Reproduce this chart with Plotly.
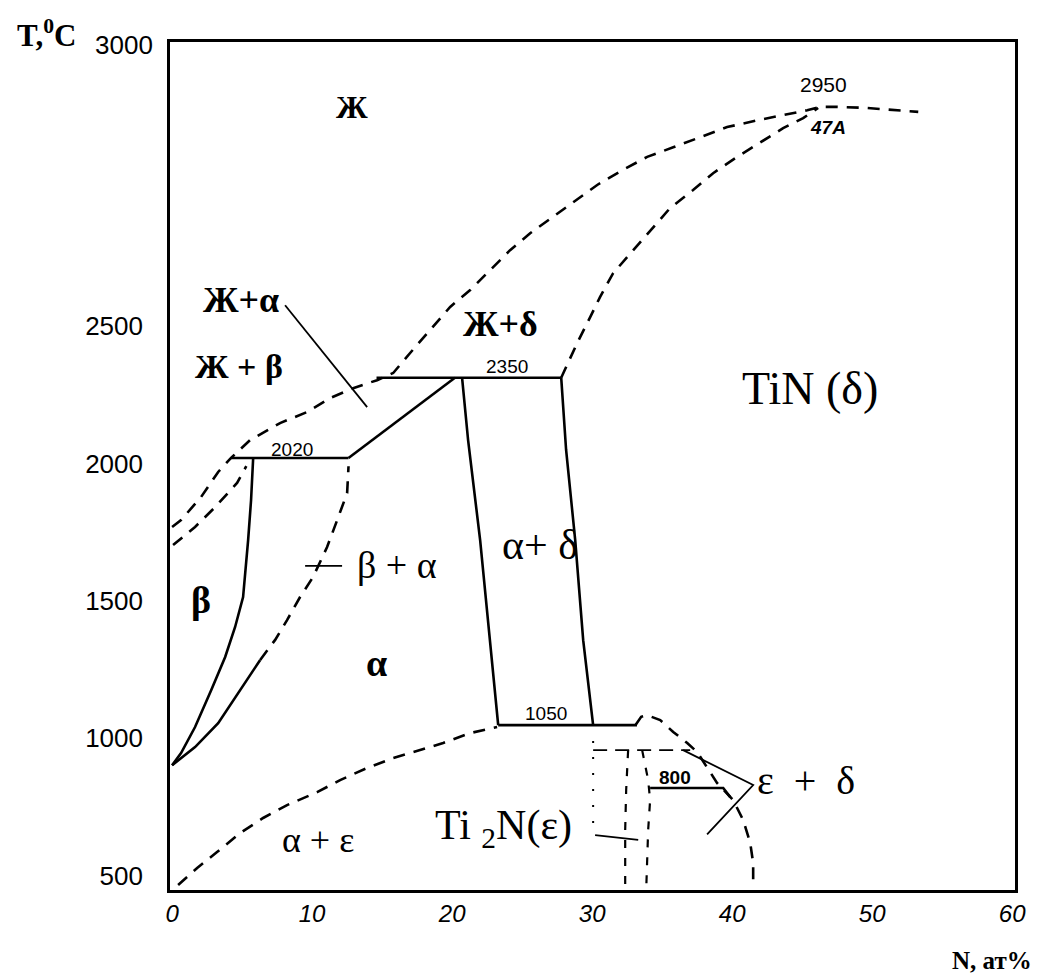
import plotly.graph_objects as go

# ---------------- data (x: N, at.%; T: deg C) ----------------
# upper part of the temperature axis (2500..3000) is drawn stretched in the original
T_BREAK = 2500
K_UPPER = 2.045

liq_x = [0.0, 0.64, 2.07, 3.29, 4.21, 5.57, 7.71, 9.64, 11.29, 12.93, 14.64, 15.79, 17.0, 18.43, 19.86,
         21.29, 22.71, 24.14, 25.57, 27.21, 29.14, 30.36, 32.21, 33.93, 35.79, 37.71, 39.64, 41.79,
         43.64, 45.36, 46.29, 47.5, 49.64, 51.5, 53.29]
liq_T = [1769, 1794, 1878, 1969, 2020, 2085, 2147, 2187, 2238, 2274, 2303, 2329, 2402, 2485, 2534,
         2564, 2600, 2635, 2665, 2694, 2729, 2751, 2778, 2801, 2818, 2836, 2854, 2866,
         2875, 2884, 2890, 2890, 2888, 2884, 2881]

delta_sol_x = [27.79, 28.93, 29.86, 30.57, 31.5, 32.93, 34.14, 35.57, 37.21, 38.64, 40.36, 42.0, 43.64, 45.07, 46.14]
delta_sol_T = [2312, 2438, 2516, 2552, 2594, 2635, 2671, 2710, 2742, 2772, 2801, 2827, 2852, 2870, 2888]

beta_sol_x = [0.07, 1.64, 3.07, 4.64, 5.3]
beta_sol_T = [1703, 1769, 1841, 1929, 1990]

beta_x = [5.79, 5.64, 5.43, 5.07, 4.5, 3.79, 2.79, 1.64, 0.64, 0.0]
beta_T = [2020, 1867, 1721, 1514, 1405, 1296, 1175, 1041, 946, 902]

alpha_solid_x = [0.0, 1.64, 3.29, 4.71, 6.29]
alpha_solid_T = [902, 968, 1055, 1164, 1285]
alpha_dash_x = [6.29, 7.36, 8.21, 9.14, 10.07, 11.07, 11.79, 12.5, 12.6]
alpha_dash_T = [1285, 1358, 1430, 1514, 1587, 1696, 1794, 1892, 1990]

iso2020_x = [4.2, 12.6]
iso2020_T = [2020, 2020]

alpha_liq_x = [12.6, 20.2]
alpha_liq_T = [2020, 2312]

iso2350_x = [14.6, 27.8]
iso2350_T = [2312, 2312]

a_ad_x = [20.71, 21.14, 22.0, 22.71, 23.29]
a_ad_T = [2312, 2085, 1721, 1357, 1048]

d_ad_x = [27.79, 28.14, 28.79, 29.36, 30.07]
d_ad_T = [2312, 2049, 1721, 1357, 1048]

iso1050_x = [23.29, 33.2]
iso1050_T = [1048, 1048]

dome_x = [33.1, 33.5, 33.93, 34.86, 35.79, 36.79, 37.5, 38.21, 38.93, 40.07, 40.79, 41.29, 41.5, 41.5]
dome_T = [1048, 1078, 1084, 1066, 1023, 983, 950, 895, 837, 775, 702, 619, 546, 466]

a_ae_x = [0.43, 1.79, 3.21, 4.86, 6.5, 8.21, 10.36, 12.0, 13.93, 15.79, 17.71, 19.36, 21.29, 23.21]
a_ae_T = [466, 528, 586, 655, 710, 757, 804, 848, 892, 928, 957, 983, 1019, 1041]

eps_left_x = [32.57, 32.43, 32.36, 32.36]
eps_left_T = [957, 812, 666, 448]
eps_right_x = [33.57, 34.0, 34.14, 34.0, 33.86]
eps_right_T = [957, 848, 775, 666, 448]

iso800_x = [34.14, 39.36, 39.86]
iso800_T = [819, 819, 786]

hline_x = [30.07, 37.0]
hline_T = [957, 957]
vdot_x = [30.07, 30.07]
vdot_T = [990, 650]

# leader lines
lead_la_x = [8.07, 13.93]
lead_la_T = [2537, 2205]
lead_ba_x = [9.5, 12.14]
lead_ba_T = [1627, 1627]
lead_ed_x = [36.5, 41.5, 38.21]
lead_ed_T = [957, 830, 650]
lead_ti2n_x = [30.21, 33.29]
lead_ti2n_T = [648, 630]

# labels: (text, x, T, size, font, weight)
SERIF = "Liberation Serif, DejaVu Serif, serif"
NARROW = "Liberation Sans Narrow, Liberation Sans, Arial, sans-serif"
labels = [
    ("Ж", 12.86, 2890, 32, SERIF, "bold"),
    ("Ж+α", 4.93, 2546, 36, SERIF, "bold"),
    ("Ж + β", 4.79, 2351, 34, SERIF, "bold"),
    ("Ж+δ", 23.43, 2504, 36, SERIF, "bold"),
    ("TiN (δ)", 45.57, 2274, 46, SERIF, "normal"),
    ("α+ δ", 26.29, 1703, 42, SERIF, "normal"),
    ("β + α", 16.07, 1630, 38, SERIF, "normal"),
    ("β", 2.07, 1503, 38, SERIF, "bold"),
    ("α", 14.57, 1274, 38, SERIF, "bold"),
    ("α + ε", 10.43, 630, 36, SERIF, "normal"),
    ("Ti <sub>2</sub>N(ε)", 23.64, 674, 42, SERIF, "normal"),
    ("ε  +  δ", 45.29, 848, 40, SERIF, "normal"),
    ("2950", 46.5, 2929, 21, NARROW, "normal"),
    ("<i>47A</i>", 46.86, 2854, 19, NARROW, "bold"),
    ("2350", 23.93, 2354, 19, NARROW, "normal"),
    ("1050", 26.71, 1092, 19, NARROW, "normal"),
    ("800", 35.93, 859, 19, NARROW, "bold"),
    ("2020", 8.57, 2052, 19, NARROW, "normal"),
]

x_ticks = [0, 10, 20, 30, 40, 50, 60]
y_ticks = [500, 1000, 1500, 2000, 2500]
y_top_label = 3000


def ty(vals):
    return [v if v <= T_BREAK else T_BREAK + (v - T_BREAK) * K_UPPER for v in vals]


fig = go.Figure()

SOLID = dict(color="black", width=2.6)
DASH = dict(color="black", width=2.6, dash="12px,9px")
THIN = dict(color="black", width=1.8)


def add(x, T, line):
    fig.add_trace(go.Scatter(x=x, y=ty(T), mode="lines", line=line, hoverinfo="skip", showlegend=False))


# dashed curves
add(liq_x, liq_T, DASH)
add(delta_sol_x, delta_sol_T, DASH)
add(beta_sol_x, beta_sol_T, DASH)
add(alpha_dash_x, alpha_dash_T, DASH)
add(a_ae_x, a_ae_T, DASH)
add(dome_x, dome_T, DASH)
add(eps_left_x, eps_left_T, dict(color="black", width=2.2, dash="8px,10px"))
add(eps_right_x, eps_right_T, dict(color="black", width=2.2, dash="8px,10px"))
add(hline_x, hline_T, dict(color="black", width=1.6, dash="14px,8px"))
add(vdot_x, vdot_T, dict(color="black", width=2, dash="2px,14px"))

# solid curves
add(beta_x, beta_T, SOLID)
add(alpha_solid_x, alpha_solid_T, SOLID)
add(iso2020_x, iso2020_T, SOLID)
add(alpha_liq_x, alpha_liq_T, SOLID)
add(iso2350_x, iso2350_T, SOLID)
add(a_ad_x, a_ad_T, SOLID)
add(d_ad_x, d_ad_T, SOLID)
add(iso1050_x, iso1050_T, SOLID)
add(iso800_x, iso800_T, SOLID)

# leaders
add(lead_la_x, lead_la_T, THIN)
add(lead_ba_x, lead_ba_T, THIN)
add(lead_ed_x, lead_ed_T, THIN)
add(lead_ti2n_x, lead_ti2n_T, THIN)

for text, x, T, size, fam, weight in labels:
    fig.add_annotation(x=x, y=ty([T])[0], text=text, showarrow=False, xanchor="center", yanchor="middle",
                       font=dict(family=fam, size=size, color="black", weight=weight))

TICKFONT = dict(family="Liberation Sans, Arial, sans-serif", size=26, color="black")

# top temperature label sits closer to the axis than the others in the original
fig.add_annotation(xref="paper", y=ty([y_top_label])[0], x=-0.0178, text=str(y_top_label), showarrow=False,
                   xanchor="right", yanchor="middle", font=TICKFONT)

# axis titles
fig.add_annotation(xref="paper", yref="paper", x=-0.1467, y=1.0106, text="T,<sup>0</sup>C", showarrow=False,
                   xanchor="center", yanchor="middle",
                   font=dict(family=SERIF, size=31, color="black", weight="bold"))
fig.add_annotation(xref="paper", yref="paper", x=0.9728, y=-0.0837, text="N, ат%", showarrow=False,
                   xanchor="center", yanchor="middle",
                   font=dict(family=SERIF, size=25, color="black", weight="bold"))

fig.update_layout(
    width=1032, height=970,
    margin=dict(l=162, r=25, t=34, b=88),
    paper_bgcolor="white", plot_bgcolor="white",
    showlegend=False,
    xaxis=dict(range=[-0.15, 60.2], showgrid=False, zeroline=False, showline=True, mirror=True,
               linecolor="black", linewidth=2.6, tickvals=x_ticks, ticks="",
               tickfont=dict(family="Liberation Sans, Arial, sans-serif", size=24, color="black", style="italic")),
    yaxis=dict(range=[448, 3533.5], showgrid=False, zeroline=False, showline=True, mirror=True,
               linecolor="black", linewidth=2.6, tickvals=ty(y_ticks), ticktext=[str(v) for v in y_ticks],
               ticks="", ticklabelstandoff=19, tickfont=TICKFONT),
)

fig.write_html("out.html")
